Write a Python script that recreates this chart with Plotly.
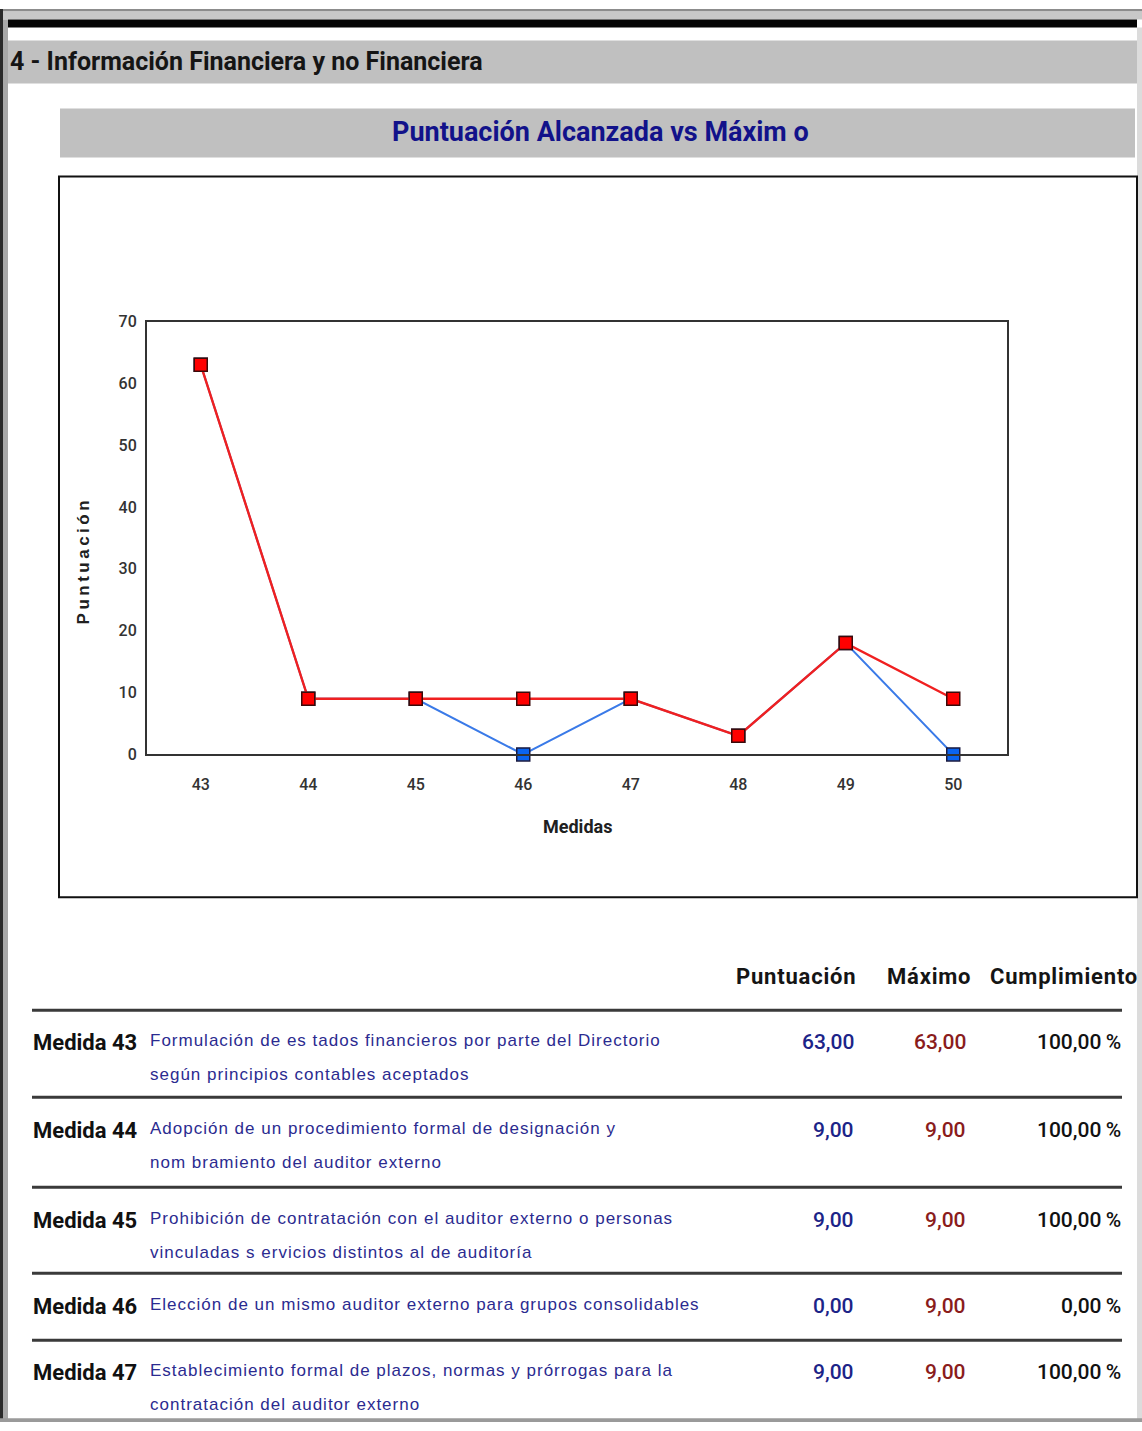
import plotly.graph_objects as go

# ---- data ----
medidas = [43, 44, 45, 46, 47, 48, 49, 50]
puntuacion = [63, 9, 9, 0, 9, 3, 18, 0]
maximo = [63, 9, 9, 9, 9, 3, 18, 9]

y_ticks = [0, 10, 20, 30, 40, 50, 60, 70]

tabla_medidas = [43, 44, 45, 46, 47]
tabla_descripciones = [
    ["Formulación de es tados financieros por parte del Directorio",
     "según principios contables aceptados"],
    ["Adopción de un procedimiento formal de designación y",
     "nom bramiento del auditor externo"],
    ["Prohibición de contratación con el auditor externo o personas",
     "vinculadas s ervicios distintos al de auditoría"],
    ["Elección de un mismo auditor externo para grupos consolidables"],
    ["Establecimiento formal de plazos, normas y prórrogas para la",
     "contratación del auditor externo"],
]
encabezados = ["Puntuación", "Máximo", "Cumplimiento"]

# ---- page geometry (pixels, measured on the page) ----
W = 1142
H = 1432              # figure height
PAGE_TOP = 8.4        # the figure starts a little below the top of the page
PAGE_SCALE = 0.987    # figure pixels -> page pixels (vertical)
NARROW = "Roboto, Liberation Sans, sans-serif"
SANS = "Liberation Sans, Arial, sans-serif"


def px(x):
    return x / W


def py(y):
    fy = (y - PAGE_TOP) / PAGE_SCALE
    fy = min(max(fy, 0), H)
    return 1 - fy / H


shapes = []
annotations = []


def rect(x0, y0, x1, y1, fill, line=None, lw=0):
    shapes.append(dict(type="rect", xref="paper", yref="paper",
                       x0=px(x0), x1=px(x1), y0=py(y1), y1=py(y0),
                       fillcolor=fill, line=dict(color=line or fill, width=lw),
                       layer="below"))


def hline(x0, x1, y, color, width):
    shapes.append(dict(type="line", xref="paper", yref="paper",
                       x0=px(x0), x1=px(x1), y0=py(y), y1=py(y),
                       line=dict(color=color, width=width), layer="above"))


def text(x, y, s, size, color, family=NARROW, anchor="left", bold=False,
         angle=0, spacing=None, weight=None):
    if spacing is not None:
        s = f'<span style="letter-spacing:{spacing}px">{s}</span>'
    if bold:
        s = f"<b>{s}</b>"
    font = dict(family=family, size=size, color=color)
    if weight:
        font["weight"] = weight
    annotations.append(dict(xref="paper", yref="paper", x=px(x), y=py(y),
                            text=s, showarrow=False, xanchor=anchor,
                            yanchor="middle", textangle=angle, font=font))


def fmt(v):
    return f"{v:.2f}".replace(".", ",")


# page frame
rect(0, 8, W, 11, "#8c8c8c")
rect(3, 11, W, 19, "#c8c8c8")
rect(8, 19, 1137, 27, "#050505")
rect(0, 8, 3, 1431, "#2a2a2a")
rect(3, 19, 8, 1431, "#a8a8a8")
rect(1137, 27, W, 1431, "#dcdcdc")
rect(0, 1418, W, 1431, "#9a9a9a")

# section header
rect(8, 40, 1137, 83, "#c0c0c0")
text(8, 61, "4 - Información Financiera y no Financiera", 25, "#151515", bold=True)

# chart title bar
rect(60, 108, 1135, 157, "#c0c0c0")
text(600, 131, "Puntuación Alcanzada vs Máxim o", 27, "#12128a", anchor="center", bold=True)

# chart frame
rect(59, 176, 1137, 897, "#ffffff", line="#111111", lw=2)

# axis titles
text(577, 826, "Medidas", 18, "#202020", bold=True, anchor="center")
text(83, 560, "Puntuación", 17, "#202020", family=SANS, anchor="center",
     angle=-90, spacing=3.5, bold=True)

# table header
for label, cx in zip(encabezados, [796, 929, 1064]):
    text(cx, 976, label, 22, "#151515", bold=True, anchor="center", spacing=0.8)

# table rows
sep_y = [1010, 1097, 1187, 1273, 1340]
row_y = [1042, 1130, 1220, 1306, 1372]
for y in sep_y:
    hline(32, 1122, y, "#3a3a3a", 3)

for i, m in enumerate(tabla_medidas):
    idx = medidas.index(m)
    p, mx = puntuacion[idx], maximo[idx]
    cumpl = p / mx * 100 if mx else 0
    y = row_y[i]
    text(31, y, f"Medida {m}", 22, "#111111", bold=True)
    for j, line in enumerate(tabla_descripciones[i]):
        text(148, y - 2 + j * 34, line, 17, "#2b2b90", family=SANS, spacing=1)
    text(856, y, fmt(p), 21, "#1c2488", anchor="right", weight=500)
    text(968, y, fmt(mx), 21, "#8a1c1c", anchor="right", weight=500)
    text(1123, y, fmt(cumpl) + "\u2009%", 21, "#111111", anchor="right", weight=500)

fig = go.Figure()

# achieved score (drawn beneath the maximum line)
fig.add_trace(go.Scatter(
    x=medidas, y=puntuacion, mode="lines+markers", name="Puntuación",
    line=dict(color="#3a7ae8", width=2),
    marker=dict(symbol="square", size=13, color="#0a64f0",
                line=dict(color="#1a1a40", width=1.5)),
    cliponaxis=False,
))
# maximum score
fig.add_trace(go.Scatter(
    x=medidas, y=maximo, mode="lines+markers", name="Máximo",
    line=dict(color="#f02020", width=2.4),
    marker=dict(symbol="square", size=13, color="#ff0000",
                line=dict(color="#3a0a0a", width=1.5)),
    cliponaxis=False,
))

fig.update_layout(
    width=W, height=H,
    margin=dict(l=0, r=0, t=0, b=0),
    paper_bgcolor="#ffffff",
    plot_bgcolor="#ffffff",
    showlegend=False,
    shapes=shapes,
    annotations=annotations,
    xaxis=dict(
        domain=[px(147), px(1007)],
        range=[42.5, 50.5],
        tickvals=medidas,
        ticktext=[str(m) for m in medidas],
        showgrid=False, zeroline=False,
        showline=True, mirror=True, linecolor="#333333", linewidth=2,
        ticks="", ticklabelstandoff=14,
        tickfont=dict(family=NARROW, size=16, color="#333333", weight=500),
        fixedrange=True,
    ),
    yaxis=dict(
        domain=[py(754), py(321)],
        range=[0, 70],
        tickvals=y_ticks,
        showgrid=False, zeroline=False,
        showline=True, mirror=True, linecolor="#333333", linewidth=2,
        ticks="", ticklabelstandoff=5,
        tickfont=dict(family=NARROW, size=16, color="#333333", weight=500),
        fixedrange=True,
    ),
)

fig.write_html("out.html")
